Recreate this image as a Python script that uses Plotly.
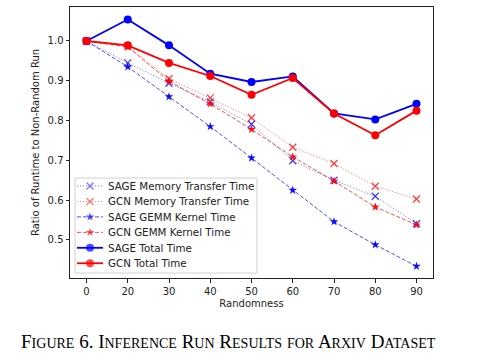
import plotly.graph_objects as go

randomness = ["0", "20", "30", "40", "50", "60", "70", "80", "90"]
sage_mem = [1.0, 0.945, 0.894, 0.847, 0.791, 0.699, 0.650, 0.610, 0.541]
gcn_mem = [1.0, 0.987, 0.905, 0.857, 0.807, 0.733, 0.692, 0.635, 0.603]
sage_gemm = [1.0, 0.935, 0.860, 0.785, 0.706, 0.625, 0.546, 0.488, 0.434]
gcn_gemm = [1.0, 0.985, 0.899, 0.842, 0.778, 0.709, 0.648, 0.583, 0.538]
sage_total = [1.0, 1.054, 0.989, 0.918, 0.897, 0.911, 0.818, 0.803, 0.842]
gcn_total = [1.0, 0.989, 0.945, 0.912, 0.865, 0.907, 0.818, 0.763, 0.825]
y_ticks = [0.5, 0.6, 0.7, 0.8, 0.9, 1.0]

BLUE = (0, 0, 255)
RED = (255, 0, 0)
DOT = "1.2px,1.8px"
DASH = "4px,2px"

def rgba(c, a):
    return f"rgba({c[0]},{c[1]},{c[2]},{a})"

# style per series: (name, values, color, dash, symbol, marker size, line width, line alpha, marker alpha)
series = [
    ("SAGE Memory Transfer Time", sage_mem, BLUE, DOT, "x-thin", 7, 1.0, 0.5, 0.75),
    ("GCN Memory Transfer Time", gcn_mem, RED, DOT, "x-thin", 7, 1.0, 0.5, 0.75),
    ("SAGE GEMM Kernel Time", sage_gemm, BLUE, DASH, "star", 6.5, 1.0, 0.7, 0.95),
    ("GCN GEMM Kernel Time", gcn_gemm, RED, DASH, "star", 6.5, 1.0, 0.7, 0.95),
    ("SAGE Total Time", sage_total, BLUE, "solid", "circle", 8, 1.8, 1.0, 1.0),
    ("GCN Total Time", gcn_total, RED, "solid", "circle", 8, 1.8, 1.0, 1.0),
]

def marker_style(color, symbol, size, alpha):
    col = rgba(color, alpha)
    if symbol == "x-thin":
        return dict(symbol=symbol, size=size, color=col, line=dict(color=col, width=1.3))
    return dict(symbol=symbol, size=size, color=col, line=dict(width=0))

fig = go.Figure()
for name, vals, color, dash, symbol, msize, lw, la, ma in series:
    fig.add_trace(go.Scatter(x=randomness, y=vals, name=name, mode="lines+markers",
                             line=dict(color=rgba(color, la), width=lw, dash=dash),
                             marker=marker_style(color, symbol, msize, ma),
                             showlegend=False))

# ---- manual legend (layout in pixel space via overlay axes) ----
PLOT_L, PLOT_R, PLOT_T, PLOT_B = 70, 433, 7, 278
LEG_BOX = (75, 178, 257, 273)
LEG_ROW0, LEG_ROW_STEP = 186, 15.45
LEG_LINE_X = (77, 90, 103)
LEG_TEXT_X = 106

for i, (name, vals, color, dash, symbol, msize, lw, la, ma) in enumerate(series):
    yy = LEG_ROW0 + i * LEG_ROW_STEP
    fig.add_trace(go.Scatter(x=list(LEG_LINE_X), y=[yy, yy, yy], xaxis="x2", yaxis="y2",
                             mode="lines+markers", line=dict(color=rgba(color, la), width=lw, dash=dash),
                             marker=dict(marker_style(color, symbol, msize, ma), size=[0, msize, 0]),
                             showlegend=False, hoverinfo="skip"))
    fig.add_annotation(text=name, xref="x2", yref="y2", x=LEG_TEXT_X, y=yy,
                       xanchor="left", yanchor="middle", showarrow=False,
                       font=dict(family="DejaVu Sans", size=10.3, color="#222222"))

fig.add_shape(type="rect", xref="x2", yref="y2", x0=LEG_BOX[0], y0=LEG_BOX[1], x1=LEG_BOX[2], y1=LEG_BOX[3],
              line=dict(color="#d0d0d0", width=1), fillcolor="rgba(255,255,255,0.8)", layer="below")

axis_common = dict(showline=True, mirror=True, linecolor="#222222", linewidth=1,
                   ticks="outside", ticklen=3.5, tickwidth=0.8, tickcolor="#222222",
                   showgrid=False, zeroline=False,
                   tickfont=dict(family="DejaVu Sans", size=10, color="#222222"))

fig.update_layout(
    width=483, height=363,
    margin=dict(l=70, r=50, t=7, b=85),
    paper_bgcolor="white", plot_bgcolor="white",
    font=dict(family="DejaVu Sans", size=10, color="#222222"),
    xaxis=dict(type="category", range=[-0.4, 8.4],
               title=dict(text="Randomness", font=dict(size=10), standoff=4), **axis_common),
    yaxis=dict(range=[0.4045, 1.0854], tickvals=y_ticks,
               ticktext=[f"{v:.1f}" for v in y_ticks],
               title=dict(text="Ratio of Runtime to Non-Random Run", font=dict(size=10), standoff=6),
               **axis_common),
    xaxis2=dict(overlaying="x", range=[PLOT_L, PLOT_R], visible=False, fixedrange=True),
    yaxis2=dict(overlaying="y", range=[PLOT_B, PLOT_T], visible=False, fixedrange=True),
    showlegend=False,
)

def smallcaps(text, big=19, small=14):
    out = []
    for word in text.split(" "):
        parts = []
        for ch in word:
            if ch.isupper() or not ch.isalpha():
                parts.append(f"<span style='font-size:{big}px'>{ch}</span>")
            else:
                parts.append(f"<span style='font-size:{small}px'>{ch.upper()}</span>")
        out.append("".join(parts))
    return " ".join(out)

caption = smallcaps("Figure 6. Inference Run Results for Arxiv Dataset")
fig.add_annotation(text=caption, xref="paper", yref="paper", x=0.438, y=-0.235,
                   xanchor="center", yanchor="middle", showarrow=False,
                   font=dict(family="Liberation Serif", size=19, color="black"))

fig.write_html("out.html", config={"displayModeBar": False},
               post_script="document.body.style.margin='0';")
